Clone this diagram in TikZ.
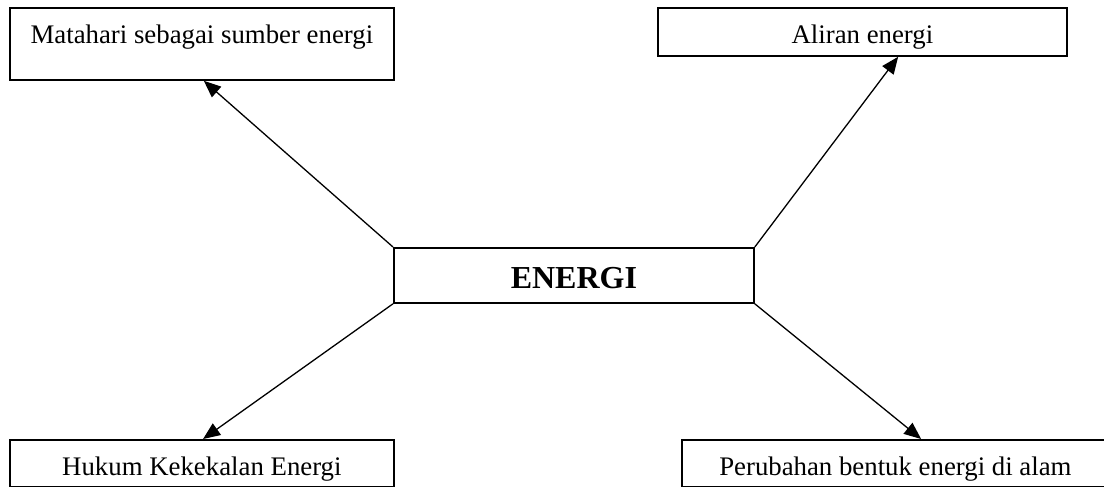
\documentclass[tikz,border=0pt]{standalone}
\usepackage{fontspec}
\setmainfont{Liberation Serif}
\usetikzlibrary{arrows.meta,calc}
\begin{document}
\begin{tikzpicture}[x=0.5pt,y=-0.5pt,
  box/.style={draw=black, line width=0.9pt, rectangle, inner xsep=0pt, inner ysep=0pt,
              anchor=north west, font=\fontsize{13.4pt}{15pt}\selectfont},
  hub/.style={box, font=\fontsize{16pt}{19pt}\selectfont\bfseries},
  arr/.style={line width=0.65pt, -{Triangle[length=8.5pt,width=7pt]}}]
\useasboundingbox (0,0) rectangle (1104,487);
\clip (0,0) rectangle (1104,487);

% central concept
\node[hub, minimum width=180pt, text height=20.5pt, text depth=7pt] (c) at (393,247) {ENERGI};

% surrounding topics
\node[box, minimum width=192pt, text height=18pt, text depth=18pt] (a) at (9,7)
  {Matahari sebagai sumber energi};
\node[box, minimum width=204.5pt, text height=18pt, text depth=6pt] (b) at (657,7)
  {Aliran energi};
\node[box, minimum width=192pt, text height=18pt, text depth=5.5pt] (d) at (9,439)
  {Hukum Kekekalan Energi};
\node[box, minimum width=213.5pt, text height=18pt, text depth=5.5pt] (e) at (681,439)
  {Perubahan bentuk energi di alam};

% connectors from the corners of the central box
\draw[arr] (c.north west) -- ($(a.south west)!0.505!(a.south east)$);
\draw[arr] (c.north east) -- ($(b.south west)!0.587!(b.south east)$);
\draw[arr] (c.south west) -- ($(d.north west)!0.503!(d.north east)$);
\draw[arr] (c.south east) -- ($(e.north west)!0.560!(e.north east)$);
\end{tikzpicture}
\end{document}
